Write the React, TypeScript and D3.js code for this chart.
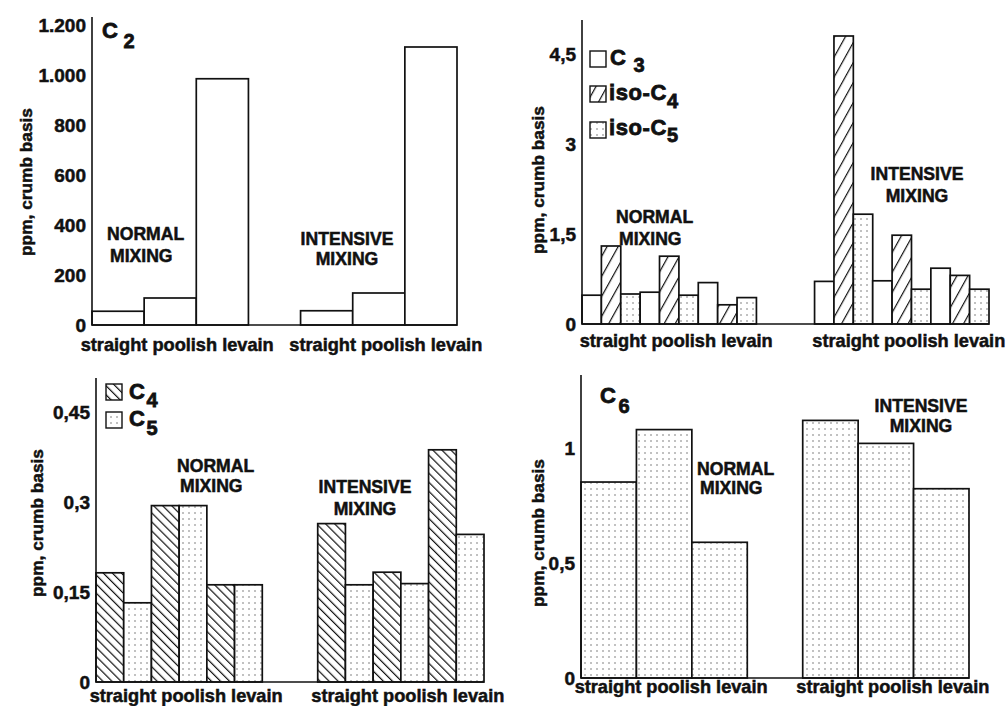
import React from "react";
import * as d3 from "d3";

// categories and labels
const categories = ["straight", "poolish", "levain"];
const mixingNormal = ["NORMAL", "MIXING"];
const mixingIntensive = ["INTENSIVE", "MIXING"];
const yLabel = "ppm, crumb basis";

// C2
const c2Normal = [55, 108, 985];
const c2Intensive = [57, 128, 1112];
const c2Ticks = [0, 200, 400, 600, 800, 1000, 1200];

// C3, iso-C4, iso-C5
const c3Normal = [0.48, 0.53, 0.69];
const isoC4Normal = [1.3, 1.13, 0.32];
const isoC5Normal = [0.5, 0.48, 0.44];
const c3Intensive = [0.71, 0.72, 0.93];
const isoC4Intensive = [4.8, 1.48, 0.81];
const isoC5Intensive = [1.83, 0.58, 0.58];
const isoTicks = [0, 1.5, 3, 4.5];

// C4, C5
const c4Normal = [0.182, 0.294, 0.162];
const c5Normal = [0.132, 0.294, 0.162];
const c4Intensive = [0.264, 0.183, 0.387];
const c5Intensive = [0.162, 0.164, 0.246];
const c45Ticks = [0, 0.15, 0.3, 0.45];

// C6
const c6Normal = [0.852, 1.08, 0.59];
const c6Intensive = [1.12, 1.02, 0.823];
const c6Ticks = [0, 0.5, 1];

const FONT = "'Liberation Sans', Arial, Helvetica, sans-serif";
const INK = "#111";
// heavy type, a bit like the original's Helvetica black
const txt = { fontFamily: FONT, fontWeight: "bold" as const, fill: INK, stroke: INK, strokeWidth: 0.5 };
const fmt = d3
  .formatLocale({ decimal: ",", thousands: ".", grouping: [3], currency: ["", ""] })
  .format(",.2~f");

type Series = { name: string; fill: string; normal: number[]; intensive: number[] };

type PanelProps = {
  series: Series[];
  ticks: number[];
  axisX: number;
  axisEnd: number;
  axisTop: number;
  baseline: number;
  yAtMax: number;
  gap: number;
  labelY: number;
  yLabelX: number;
  yLabelY: number;
  children?: React.ReactNode;
};

function Panel(p: PanelProps) {
  const y = d3
    .scaleLinear()
    .domain([0, p.ticks[p.ticks.length - 1]])
    .range([p.baseline, p.yAtMax]);

  const keys = (g: string) => categories.flatMap((c) => p.series.map((s) => `${g}-${c}-${s.name}`));
  const normalKeys = keys("n");
  const intensiveKeys = keys("i");
  const gapKeys = d3.range(p.gap).map((i) => `gap${i}`);
  const x = d3
    .scaleBand<string>()
    .domain([...normalKeys, ...gapKeys, ...intensiveKeys])
    .range([p.axisX, p.axisEnd])
    .padding(0);
  const bw = x.bandwidth();

  const bars: { key: string; v: number; fill: string }[] = [];
  (["n", "i"] as const).forEach((g) =>
    categories.forEach((c, ci) =>
      p.series.forEach((s) =>
        bars.push({
          key: `${g}-${c}-${s.name}`,
          v: (g === "n" ? s.normal : s.intensive)[ci],
          fill: s.fill,
        })
      )
    )
  );

  const groupCenter = (ks: string[]) => ((x(ks[0]) ?? 0) + (x(ks[ks.length - 1]) ?? 0) + bw) / 2;

  return (
    <g>
      {bars.map((b) => (
        <rect
          key={b.key}
          x={x(b.key)}
          y={y(b.v)}
          width={bw}
          height={p.baseline - y(b.v)}
          fill={b.fill}
          stroke={INK}
          strokeWidth={1.7}
        />
      ))}
      <line x1={p.axisX} x2={p.axisX} y1={p.axisTop} y2={p.baseline} stroke={INK} strokeWidth={1.6} />
      <line x1={p.axisX} x2={p.axisEnd} y1={p.baseline} y2={p.baseline} stroke={INK} strokeWidth={1.6} />
      {p.ticks.map((t) => (
        <text key={t} x={p.axisX - 6} y={y(t)} dy="0.36em" textAnchor="end" fontSize={19} {...txt}>
          {fmt(t)}
        </text>
      ))}
      {[normalKeys, intensiveKeys].map((ks, i) => (
        <text key={i} x={groupCenter(ks) + 7} y={p.labelY} textAnchor="middle" fontSize={18.2} {...txt}>
          {categories.join(" ")}
        </text>
      ))}
      <text
        transform={`translate(${p.yLabelX},${p.yLabelY}) rotate(-90)`}
        textAnchor="middle"
        fontSize={17.3}
        {...txt}
      >
        {yLabel}
      </text>
      {p.children}
    </g>
  );
}

function Mixing({ lines, x, y, anchor, gap = 21 }: { lines: string[]; x: number; y: number; anchor: "start" | "middle"; gap?: number }) {
  return (
    <text x={x} y={y} textAnchor={anchor} fontSize={17.6} {...txt}>
      {lines.map((l, i) => (
        <tspan key={i} x={i === 0 ? x : anchor === "start" ? x + 3 : x} dy={i === 0 ? 0 : gap}>
          {l}
        </tspan>
      ))}
    </text>
  );
}

function Label({ x, y, main, sub, subGap = 6, subDy = 8 }: { x: number; y: number; main: string; sub: string; subGap?: number; subDy?: number }) {
  return (
    <text x={x} y={y} fontSize={22} letterSpacing={0.6} {...txt} strokeWidth={0.8}>
      {main}
      <tspan dx={subGap} dy={subDy} fontSize={20}>
        {sub}
      </tspan>
    </text>
  );
}

function LegendBox({ x, y, fill }: { x: number; y: number; fill: string }) {
  return <rect x={x} y={y} width={16} height={16} fill={fill} stroke={INK} strokeWidth={1.4} />;
}

export default function App() {
  return (
    <svg
      width={1008}
      height={706}
      viewBox="0 0 1008 706"
      style={{ position: "absolute", left: 0, top: 0, background: "#fff" }}
    >
      <defs>
        <pattern id="hatchFwd" patternUnits="userSpaceOnUse" width={9.7} height={10} patternTransform="rotate(29)">
          <rect width={9.7} height={10} fill="#fff" />
          <line x1={0.6} y1={0} x2={0.6} y2={10} stroke={INK} strokeWidth={1.2} />
        </pattern>
        <pattern id="hatchBack" patternUnits="userSpaceOnUse" width={6.4} height={10} patternTransform="rotate(-45)">
          <rect width={6.4} height={10} fill="#fff" />
          <line x1={0.6} y1={0} x2={0.6} y2={10} stroke={INK} strokeWidth={1.2} />
        </pattern>
        <pattern id="dots" patternUnits="userSpaceOnUse" width={6} height={6}>
          <rect width={6} height={6} fill="#fff" />
          <rect x={2.4} y={2.4} width={1.2} height={1.2} fill="#555" />
        </pattern>
      </defs>

      {/* C2 */}
      <Panel
        series={[{ name: "C2", fill: "#fff", normal: c2Normal, intensive: c2Intensive }]}
        ticks={c2Ticks}
        axisX={92}
        axisEnd={457}
        axisTop={17}
        baseline={325}
        yAtMax={25}
        gap={1}
        labelY={351}
        yLabelX={32}
        yLabelY={182}
      >
        <Label x={102} y={38} main="C" sub="2" subGap={5} subDy={10} />
        <Mixing lines={mixingNormal} x={107} y={240} anchor="start" gap={22} />
        <Mixing lines={mixingIntensive} x={347} y={245} anchor="middle" gap={20} />
      </Panel>

      {/* C3, iso-C4, iso-C5 */}
      <Panel
        series={[
          { name: "C3", fill: "#fff", normal: c3Normal, intensive: c3Intensive },
          { name: "iso-C4", fill: "url(#hatchFwd)", normal: isoC4Normal, intensive: isoC4Intensive },
          { name: "iso-C5", fill: "url(#dots)", normal: isoC5Normal, intensive: isoC5Intensive },
        ]}
        ticks={isoTicks}
        axisX={582}
        axisEnd={989}
        axisTop={20}
        baseline={324}
        yAtMax={54}
        gap={3}
        labelY={347}
        yLabelX={544}
        yLabelY={180}
      >
        <LegendBox x={590} y={51} fill="#fff" />
        <Label x={610} y={65} main="C" sub="3" subGap={7} subDy={7} />
        <LegendBox x={590} y={86} fill="url(#hatchFwd)" />
        <Label x={609} y={100} main="iso-C" sub="4" subGap={0} subDy={8} />
        <LegendBox x={590} y={122} fill="url(#dots)" />
        <Label x={609} y={135} main="iso-C" sub="5" subGap={0} subDy={7} />
        <Mixing lines={mixingNormal} x={616} y={223} anchor="start" gap={22} />
        <Mixing lines={mixingIntensive} x={917} y={180} anchor="middle" gap={22} />
      </Panel>

      {/* C4, C5 */}
      <Panel
        series={[
          { name: "C4", fill: "url(#hatchBack)", normal: c4Normal, intensive: c4Intensive },
          { name: "C5", fill: "url(#dots)", normal: c5Normal, intensive: c5Intensive },
        ]}
        ticks={c45Ticks}
        axisX={96}
        axisEnd={484}
        axisTop={378}
        baseline={682}
        yAtMax={412}
        gap={2}
        labelY={702}
        yLabelX={43}
        yLabelY={523}
      >
        <LegendBox x={106} y={384} fill="url(#hatchBack)" />
        <Label x={129} y={399} main="C" sub="4" subGap={1} subDy={8} />
        <LegendBox x={106} y={412} fill="url(#dots)" />
        <Label x={129} y={426} main="C" sub="5" subGap={1} subDy={9} />
        <Mixing lines={mixingNormal} x={177} y={472} anchor="start" gap={20} />
        <Mixing lines={mixingIntensive} x={365} y={493} anchor="middle" gap={22} />
      </Panel>

      {/* C6 */}
      <Panel
        series={[{ name: "C6", fill: "url(#dots)", normal: c6Normal, intensive: c6Intensive }]}
        ticks={c6Ticks}
        axisX={581}
        axisEnd={969}
        axisTop={375}
        baseline={678}
        yAtMax={448}
        gap={1}
        labelY={693}
        yLabelX={544}
        yLabelY={533}
      >
        <Label x={600} y={403} main="C" sub="6" subGap={2} subDy={10} />
        <Mixing lines={mixingNormal} x={697} y={475} anchor="start" gap={19} />
        <Mixing lines={mixingIntensive} x={921} y={412} anchor="middle" gap={20} />
      </Panel>
    </svg>
  );
}
